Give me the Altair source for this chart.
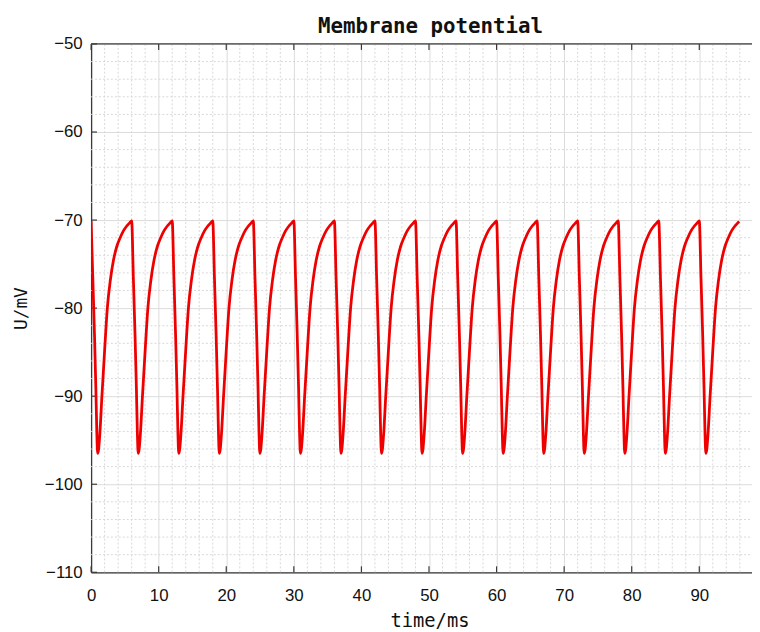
import altair as alt
import pandas as pd

# ---- data ----
# start times (ms) of each hyperpolarising reset
cycle_starts = [0.0, 6.0, 12.0, 18.0, 24.0, 30.0, 36.0, 42.0, 48.0, 54.0,
                60.0, 66.0, 72.0, 78.0, 84.0, 90.0]
# shape of one cycle: time offset (ms) after reset and potential (mV)
cycle_offsets = [0.0, 0.25, 0.5, 0.7, 0.85, 0.97, 1.1, 1.3, 1.6, 2.0, 2.4,
                 2.85, 3.3, 3.8, 4.3, 4.8, 5.25, 5.6, 5.9]
cycle_values = [-70.1, -76.5, -83.0, -89.0, -94.3, -96.5, -96.1, -94.2, -90.0,
                -84.8, -80.0, -76.8, -74.6, -73.0, -72.0, -71.2, -70.7, -70.4,
                -70.15]

x_ticks = [0, 10, 20, 30, 40, 50, 60, 70, 80, 90]
y_ticks = [-110, -100, -90, -80, -70, -60, -50]
x_minor = [v for v in range(0, 98, 2) if v % 10 != 0]
y_minor = [v for v in range(-110, -49, 2) if v % 10 != 0]

X_DOMAIN = [0, 97.8]
Y_DOMAIN = [-110, -50]
W, H = 668, 534

rows = []
for s in cycle_starts:
    for o, v in zip(cycle_offsets, cycle_values):
        rows.append({"t": round(s + o, 3), "v": v})
line_df = pd.DataFrame(rows)

xscale = alt.Scale(domain=X_DOMAIN, nice=False, zero=False)
yscale = alt.Scale(domain=Y_DOMAIN, nice=False, zero=False)

AX_COLOR = "#3a3a3a"

xaxis = alt.Axis(values=x_ticks, grid=True, gridColor="#dcdcdc", gridWidth=1,
                 ticks=False, domain=True, domainColor=AX_COLOR, domainWidth=1.3,
                 labelFont="Liberation Sans", labelFontSize=17, labelColor="#111",
                 labelPadding=16, labelFlush=False, labelOverlap=False,
                 title="time/ms", titleFont="DejaVu Sans Mono", titleFontSize=19,
                 titleFontWeight="normal", titleColor="#111", titleX=342, titleY=55,
                 titleAlign="center", titleBaseline="alphabetic")
yaxis = alt.Axis(values=y_ticks, grid=True, gridColor="#dcdcdc", gridWidth=1,
                 ticks=False, domain=True, domainColor=AX_COLOR, domainWidth=1.3,
                 labelFont="Liberation Sans", labelFontSize=17, labelColor="#111",
                 labelPadding=9, labelFlush=False, labelOverlap=False,
                 title="U/mV", titleFont="DejaVu Sans Mono", titleFontSize=18,
                 titleFontWeight="normal", titleColor="#111", titleX=-70, titleY=267,
                 titleAngle=270, titleAlign="center", titleBaseline="middle")

X = lambda f: alt.X(f, type="quantitative", scale=xscale, axis=xaxis)
Y = lambda f: alt.Y(f, type="quantitative", scale=yscale, axis=yaxis)

minor_x = alt.Chart(pd.DataFrame({"t": x_minor})).mark_rule(
    color="#d8d8d8", strokeWidth=1, strokeDash=[2, 2]
).encode(x=X("t"), y=alt.value(0), y2=alt.value(H))

minor_y = alt.Chart(pd.DataFrame({"v": y_minor})).mark_rule(
    color="#d8d8d8", strokeWidth=1, strokeDash=[2, 2]
).encode(y=Y("v"), x=alt.value(0), x2=alt.value(W))

tick_bottom = alt.Chart(pd.DataFrame({"t": x_ticks})).mark_rule(
    color=AX_COLOR, strokeWidth=1.2
).encode(x=X("t"), y=alt.value(H), y2=alt.value(H - 6))

tick_top = alt.Chart(pd.DataFrame({"t": x_ticks})).mark_rule(
    color=AX_COLOR, strokeWidth=1.2
).encode(x=X("t"), y=alt.value(0), y2=alt.value(6))

tick_left = alt.Chart(pd.DataFrame({"v": y_ticks})).mark_rule(
    color=AX_COLOR, strokeWidth=1.2
).encode(y=Y("v"), x=alt.value(0), x2=alt.value(6))

top_border = alt.Chart(pd.DataFrame({"a": [0]})).mark_rule(
    color=AX_COLOR, strokeWidth=1.3
).encode(x=alt.value(0), x2=alt.value(W), y=alt.value(0))

line = alt.Chart(line_df).mark_line(
    color="#ee0000", strokeWidth=2.8, interpolate="monotone", clip=True
).encode(x=X("t"), y=Y("v"), order="t:Q")

chart = alt.layer(
    minor_x, minor_y, tick_bottom, tick_top, tick_left, top_border, line
).properties(
    width=W, height=H,
    title=alt.TitleParams("Membrane potential", font="DejaVu Sans Mono",
                          fontSize=21, fontWeight="bold", color="#111",
                          anchor="middle", dx=9, dy=28, offset=9,
                          baseline="alphabetic"),
    autosize=alt.AutoSizeParams(type="none"),
    padding={"left": 84, "top": 33, "right": 0, "bottom": 57},
).configure_view(strokeWidth=0).configure(background="white")

chart.save("out.html", embed_options={"renderer": "svg", "actions": False})
